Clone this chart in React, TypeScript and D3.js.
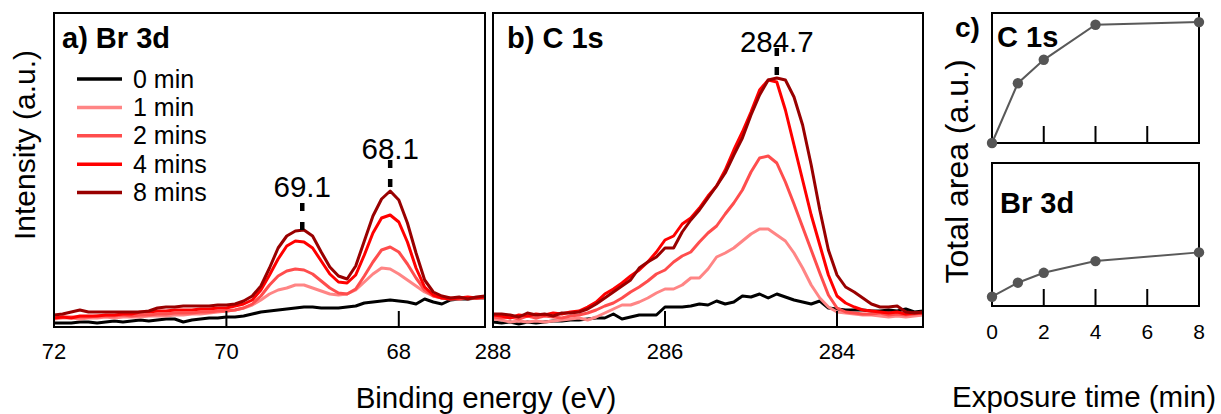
import React from "react";
import * as d3 from "d3";

// ---------- data ----------
// Panel a) Br 3d : binding energy 72.0 -> 67.0 eV, step 0.1 eV
const brStart = 72.0;
const brStep = -0.1;
const br0 = [4,4,4,5,5,4,5,6,5,6, 7,6,7,8,8,5,7,8,9,9, 10,10,11,13,15,16,17,18,19,20, 20,19,19,19,20,21,24,25,26,27, 26,25,23,28,25,23,27,28,28,29, 29];
const br1 = [8,9,9,8,9,9,10,9,10,10, 10,11,11,11,12,12,13,13,14,15, 16,17,19,22,27,33,37,39,42,42, 39,36,33,32,33,37,45,53,59,58, 53,47,41,35,31,29,28,28,29,29, 29];
const br2 = [9,10,10,10,10,11,11,11,12,11, 12,12,13,13,14,14,14,15,15,16, 16,17,19,23,31,42,51,56,58,57, 53,46,39,34,33,38,51,65,77,80, 75,63,49,37,31,29,29,28,29,29, 30];
const br4 = [9,10,9,11,11,11,12,12,13,13, 15,15,16,16,17,17,17,18,18,19, 19,21,23,27,37,52,68,81,86,85, 79,66,53,45,44,52,72,94,109,112, 105,85,59,40,32,29,28,29,30,29, 30];
const br8 = [12,13,15,17,15,15,15,15,15,15, 15,16,19,20,20,21,21,21,21,22, 22,23,26,31,41,59,79,91,96,97, 91,75,60,51,48,61,86,111,128,136, 127,104,74,47,35,31,29,30,28,30, 31];

// Panel b) C 1s : binding energy 288.0 -> 283.0 eV, step 0.1 eV
const cStart = 288.0;
const cStep = -0.1;
const c0 = [5,4,5,3,5,4,5,6,6,7, 7,8,9,9,13,8,10,12,12,12, 20,20,20,21,23,22,26,23,25,31, 30,33,29,33,30,27,25,23,26,19, 18,17,17,17,16,16,17,16,18,15, 16];
const c1 = [8,7,5,6,5,6,5,6,7,8, 9,7,10,14,18,22,22,25,29,34, 38,38,42,49,49,58,70,74,79,86, 93,98,98,92,86,74,59,42,29,20, 15,14,13,12,12,11,10,11,10,11, 12];
const c2 = [10,9,10,8,11,9,11,10,9,11, 12,14,17,21,24,29,35,40,46,53, 57,65,71,75,85,94,101,113,124,137, 155,169,171,164,145,123,100,77,54,32, 19,15,14,13,13,14,12,13,12,13, 14];
const c4 = [12,11,9,12,11,13,12,14,13,15, 16,20,25,33,38,44,51,57,65,75, 87,91,103,109,119,131,141,157,177,195, 215,237,247,245,217,182,147,112,82,52, 31,24,20,17,16,15,14,15,13,14, 14];
const c8 = [13,13,12,10,14,12,13,11,14,14, 15,18,23,29,35,41,47,59,65,70, 79,79,95,107,117,129,141,154,172,189, 212,232,247,249,247,230,202,162,117,77, 52,40,35,29,23,20,20,21,15,14, 15];

const seriesNames = ["0 min", "1 min", "2 mins", "4 mins", "8 mins"];
const seriesColors = ["#000000", "#ff8585", "#ff4d4d", "#ff0000", "#990000"];

// Panel c) total areas
const exposureTimes = [0, 1, 2, 4, 8];
const areaC1s = [0, 0.46, 0.64, 0.91, 0.93];
const areaBr3d = [0.065, 0.163, 0.232, 0.314, 0.375];

// ticks
const ticksA = [72, 70, 68];
const ticksB = [288, 286, 284];
const ticksC = [0, 2, 4, 6, 8];

// peak annotations [energy, label, lowIntensity, highIntensity, labelIntensity]
const peaksA: [number, string, number, number, number][] = [
  [69.12, "69.1", 97, 127, 130],
  [68.1, "68.1", 140, 169, 168],
];
const peaksB: [number, string, number, number, number][] = [
  [284.7, "284.7", 252, 279, 275],
];

const FONT = "'Liberation Sans', Arial, Helvetica, sans-serif";

export default function App() {
  const W = 1221, H = 414;
  const top = 13, bottom = 327;
  const xA = d3.scaleLinear().domain([72, 67]).range([54, 485]);
  const xB = d3.scaleLinear().domain([288, 283]).range([493, 923]);
  const y = d3.scaleLinear().domain([0, 314]).range([bottom, top]);

  const xC = d3.scaleLinear().domain([0, 8]).range([992, 1199]);
  const yCt = d3.scaleLinear().domain([0, 1]).range([143, 13]);
  const yCb = d3.scaleLinear().domain([0, 1]).range([306, 163]);

  const brSeries = [br0, br1, br2, br4, br8];
  const cSeries = [c0, c1, c2, c4, c8];

  const lineA = d3.line<number>()
    .x((_, i) => xA(brStart + brStep * i))
    .y((v) => y(v));
  const lineB = d3.line<number>()
    .x((_, i) => xB(cStart + cStep * i))
    .y((v) => y(v));

  const lineCt = d3.line<number>().x((_, i) => xC(exposureTimes[i])).y((v) => yCt(v));
  const lineCb = d3.line<number>().x((_, i) => xC(exposureTimes[i])).y((v) => yCb(v));

  const tickLen = 16;

  const frame = (x0: number, y0: number, x1: number, y1: number) => (
    <rect x={x0} y={y0} width={x1 - x0} height={y1 - y0} fill="none" stroke="#000" strokeWidth={2} />
  );

  const peakMarks = (peaks: typeof peaksA, xs: d3.ScaleLinear<number, number>) =>
    peaks.map(([e, label, lo, hi, ly], k) => (
      <g key={k}>
        <line x1={xs(e)} x2={xs(e)} y1={y(lo)} y2={y(hi)} stroke="#000" strokeWidth={4.5}
          strokeDasharray="8,11" strokeLinecap="butt" />
        <text x={xs(e)} y={y(ly)} textAnchor="middle" fontSize={29.5} fontFamily={FONT}>{label}</text>
      </g>
    ));

  return (
    <svg width={W} height={H} style={{ position: "absolute", left: 0, top: 0, background: "#fff" }}>
      {/* Panel a */}
      <g>
        {brSeries.map((s, k) => (
          <path key={k} d={lineA(s) || ""} fill="none" stroke={seriesColors[k]} strokeWidth={3} strokeLinejoin="round" />
        ))}
        {ticksA.map((t) => (
          <g key={t}>
            <line x1={xA(t)} x2={xA(t)} y1={bottom} y2={bottom - tickLen} stroke="#000" strokeWidth={2} />
            <text x={xA(t)} y={359} textAnchor="middle" fontSize={22} fontFamily={FONT}>{t}</text>
          </g>
        ))}
        {frame(xA(72), top, xA(67), bottom)}
        <text x={62} y={47.5} fontSize={29} fontWeight="bold" fontFamily={FONT}>a) Br 3d</text>
        {seriesNames.map((n, k) => (
          <g key={n}>
            <line x1={77} x2={122} y1={79 + k * 28.4} y2={79 + k * 28.4} stroke={seriesColors[k]} strokeWidth={3.5} />
            <text x={133} y={87.5 + k * 28.4} fontSize={25} fontFamily={FONT}>{n}</text>
          </g>
        ))}
        {peakMarks(peaksA, xA)}
      </g>

      {/* Panel b */}
      <g>
        {cSeries.map((s, k) => (
          <path key={k} d={lineB(s) || ""} fill="none" stroke={seriesColors[k]} strokeWidth={3} strokeLinejoin="round" />
        ))}
        {ticksB.map((t) => (
          <g key={t}>
            <line x1={xB(t)} x2={xB(t)} y1={bottom} y2={bottom - tickLen} stroke="#000" strokeWidth={2} />
            <text x={xB(t)} y={359} textAnchor="middle" fontSize={22} fontFamily={FONT}>{t}</text>
          </g>
        ))}
        {frame(xB(288), top, xB(283), bottom)}
        <text x={507} y={48} fontSize={29} fontWeight="bold" fontFamily={FONT}>b) C 1s</text>
        {peakMarks(peaksB, xB)}
      </g>

      <text x={486} y={408} textAnchor="middle" fontSize={29.5} fontFamily={FONT}>Binding energy (eV)</text>
      <text transform="translate(34.5,145) rotate(-90)" textAnchor="middle" fontSize={30} fontFamily={FONT}>Intensity (a.u.)</text>

      {/* Panel c */}
      <g>
        {ticksC.map((t) => (
          <g key={t}>
            <line x1={xC(t)} x2={xC(t)} y1={143} y2={143 - 17} stroke="#000" strokeWidth={2} />
            <line x1={xC(t)} x2={xC(t)} y1={306} y2={306 - 17} stroke="#000" strokeWidth={2} />
            <text x={xC(t)} y={338.5} textAnchor="middle" fontSize={21} fontFamily={FONT}>{t}</text>
          </g>
        ))}
        {frame(992, 13, 1199, 143)}
        {frame(992, 163, 1199, 306)}
        <path d={lineCt(areaC1s) || ""} fill="none" stroke="#595959" strokeWidth={2} />
        <path d={lineCb(areaBr3d) || ""} fill="none" stroke="#595959" strokeWidth={2} />
        {areaC1s.map((v, i) => (
          <circle key={"t" + i} cx={xC(exposureTimes[i])} cy={yCt(v)} r={5.2} fill="#555555" />
        ))}
        {areaBr3d.map((v, i) => (
          <circle key={"b" + i} cx={xC(exposureTimes[i])} cy={yCb(v)} r={5.2} fill="#555555" />
        ))}
        <text x={955} y={37} fontSize={28} fontWeight="bold" fontFamily={FONT}>c)</text>
        <text x={997} y={47} fontSize={29} fontWeight="bold" fontFamily={FONT}>C 1s</text>
        <text x={1000} y={213} fontSize={29} fontWeight="bold" fontFamily={FONT}>Br 3d</text>
      </g>
      <text x={1084} y={406.5} textAnchor="middle" fontSize={29.5} fontFamily={FONT}>Exposure time (min)</text>
      <text transform="translate(968,171.5) rotate(-90)" textAnchor="middle" fontSize={32} fontFamily={FONT}>Total area (a.u.)</text>
    </svg>
  );
}
